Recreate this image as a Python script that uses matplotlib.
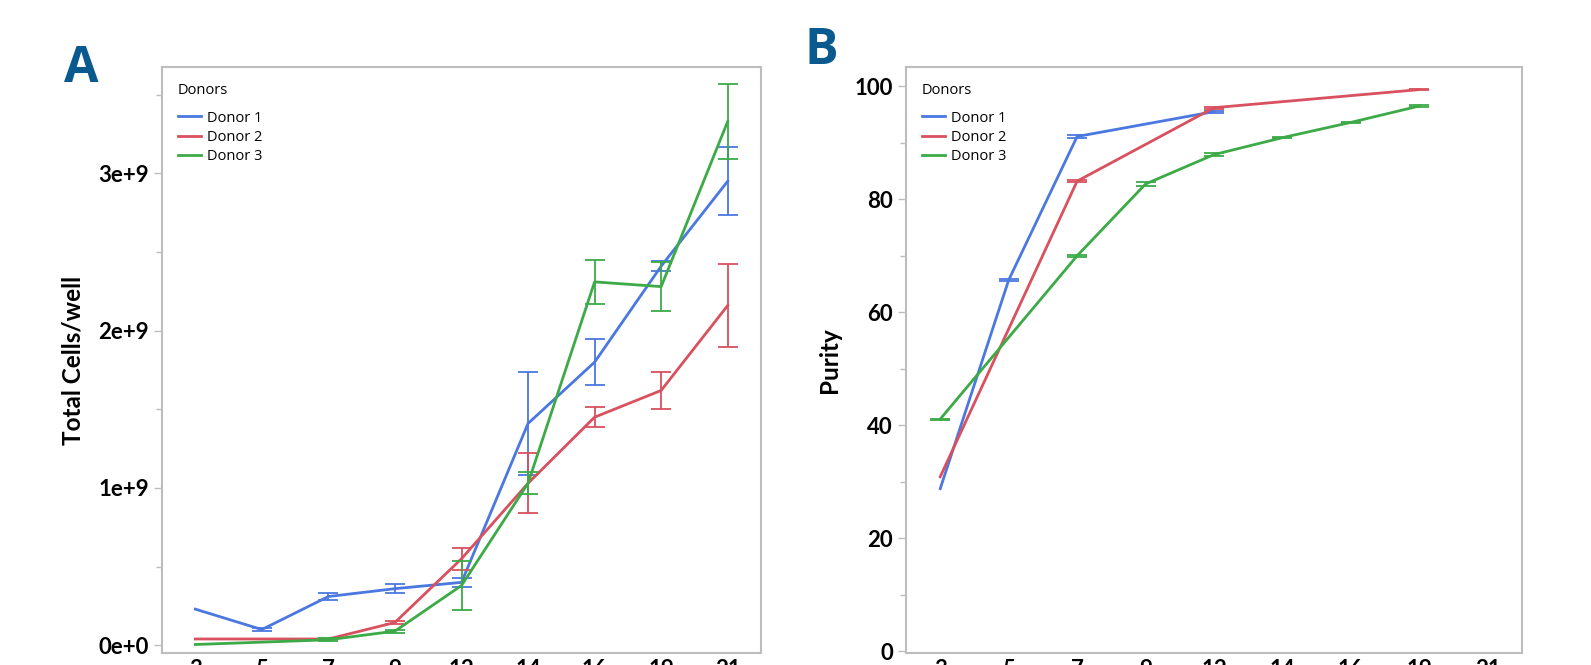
import numpy as np
import matplotlib
matplotlib.use('Agg')
import matplotlib.pyplot as plt
from matplotlib.ticker import MultipleLocator

plt.rcParams['font.family'] = ['Open Sans', 'DejaVu Sans']
BOLD = ['Lato', 'Open Sans', 'DejaVu Sans']

# x categories (days)
days = ['3', '5', '7', '9', '12', '14', '16', '19', '21']
donors = ['Donor 1', 'Donor 2', 'Donor 3']
colors = ['#4a77e0', '#d9505e', '#3caa46']

# Panel A: total cells per well (x 1e9) and error half-widths
cells_d1 = [0.23, 0.10, 0.31, 0.36, 0.40, 1.41, 1.80, 2.41, 2.95]
cells_d2 = [0.04, 0.04, 0.04, 0.145, 0.55, 1.03, 1.45, 1.62, 2.16]
cells_d3 = [0.005, 0.02, 0.035, 0.09, 0.38, 1.03, 2.31, 2.28, 3.33]
err_d1 = [np.nan, 0.01, 0.025, 0.03, 0.03, 0.33, 0.145, 0.03, 0.215]
err_d2 = [np.nan, np.nan, np.nan, 0.012, 0.07, 0.19, 0.065, 0.12, 0.265]
err_d3 = [np.nan, np.nan, 0.01, 0.01, 0.155, 0.07, 0.14, 0.155, 0.24]

# Panel B: purity, only measured days
pur_idx_d1 = [0, 1, 2, 4]
pur_d1 = [28.8, 65.7, 91.1, 95.5]
pur_err_d1 = [np.nan, 0.2, 0.2, 0.2]
pur_idx_d2 = [0, 2, 4, 7]
pur_d2 = [30.9, 83.2, 96.2, 99.4]
pur_err_d2 = [np.nan, 0.2, 0.2, 0.1]
pur_idx_d3 = [0, 2, 3, 4, 5, 6, 7]
pur_d3 = [41.1, 70.0, 82.7, 87.9, 90.9, 93.6, 96.5]
pur_err_d3 = [0.1, 0.2, 0.3, 0.2, 0.1, 0.1, 0.1]

fig = plt.figure(figsize=(15.91, 6.65), dpi=100)
axA = fig.add_axes([162 / 1591, 1 - 653 / 665, (761 - 162) / 1591, (653 - 67) / 665])
axB = fig.add_axes([906 / 1591, 1 - 653 / 665, (1522 - 906) / 1591, (653 - 67) / 665])

grey = '#bdbdbd'


def draw(ax, xs, ys, errs, color, label, scale=1.0):
    xs = np.array(xs)
    ys = np.array(ys) * scale
    errs = np.array(errs) * scale
    ax.plot(xs, ys, color=color, lw=2.0, label=label, zorder=3)
    ok = ~np.isnan(errs)
    ax.errorbar(xs[ok], ys[ok], yerr=errs[ok], fmt='none', ecolor=color,
                elinewidth=1.3, capsize=7.5, capthick=1.3, zorder=3)


def style(ax):
    for sp in ax.spines.values():
        sp.set_color(grey)
        sp.set_linewidth(1.5)
    ax.set_xlim(-0.5, 8.5)
    ax.set_xticks(range(len(days)))
    ax.set_xticklabels(days)
    ax.tick_params(axis='both', which='major', colors=grey, length=6, width=1,
                   labelsize=16, labelcolor='black')
    ax.tick_params(axis='y', which='minor', colors=grey, length=4, width=1)
    ax.tick_params(axis='x', length=0, pad=4)
    for t in ax.get_xticklabels() + ax.get_yticklabels():
        t.set_fontweight('bold')
        t.set_family(BOLD)
    leg = ax.legend(loc='upper left', title='Donors', frameon=False, fontsize=10.5,
                    title_fontsize=10.5, handlelength=1.6, handletextpad=0.4,
                    labelspacing=0.3, borderaxespad=0.6, borderpad=0.5)
    leg._legend_box.align = 'left'
    leg._legend_box.sep = 9


# Panel A
x_all = list(range(len(days)))
draw(axA, x_all, cells_d1, err_d1, colors[0], donors[0], 1e9)
draw(axA, x_all, cells_d2, err_d2, colors[1], donors[1], 1e9)
draw(axA, x_all, cells_d3, err_d3, colors[2], donors[2], 1e9)
axA.set_ylim(-0.049e9, 3.676e9)
axA.set_yticks([0, 1e9, 2e9, 3e9])
axA.set_yticklabels(['0e+0', '1e+9', '2e+9', '3e+9'])
axA.yaxis.set_minor_locator(MultipleLocator(0.5e9))
axA.set_ylabel('Total Cells/well', fontsize=17.5, fontweight='bold', family=BOLD, labelpad=10)
style(axA)

# Panel B
draw(axB, pur_idx_d1, pur_d1, pur_err_d1, colors[0], donors[0])
draw(axB, pur_idx_d2, pur_d2, pur_err_d2, colors[1], donors[1])
draw(axB, pur_idx_d3, pur_d3, pur_err_d3, colors[2], donors[2])
axB.set_ylim(-0.28, 103.4)
axB.set_yticks([0, 20, 40, 60, 80, 100])
axB.yaxis.set_minor_locator(MultipleLocator(10))
axB.set_ylabel('Purity', fontsize=17.5, fontweight='bold', family=BOLD, labelpad=10)
style(axB)

# panel letters
fig.text(81 / 1591, 1 - 69 / 665, 'A', fontsize=36, fontweight='bold', color='#0b5a8f',
         ha='center', va='center')
fig.text(821 / 1591, 1 - 51 / 665, 'B', fontsize=36, fontweight='bold', color='#0b5a8f',
         ha='center', va='center')

fig.savefig('out.png', dpi=100)
